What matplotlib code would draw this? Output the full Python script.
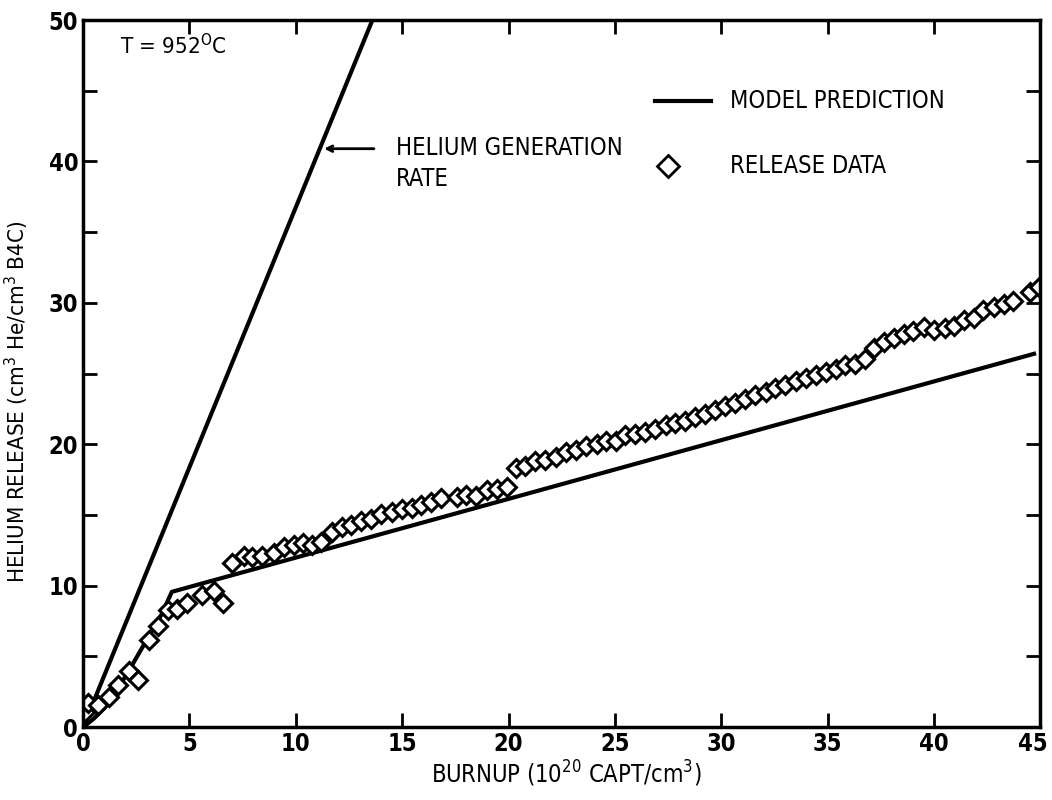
import numpy as np
import matplotlib.pyplot as plt
import matplotlib.transforms as mtransforms
plt.rcParams['font.family'] = ['DejaVu Sans']
plt.rcParams['font.stretch'] = 'condensed'

# release data (burnup, helium release)
burnup = [0.1, 0.25, 0.7, 1.23, 1.63, 2.18, 2.6, 3.1, 3.5, 4.0, 4.43, 4.9,
          5.6, 6.13, 6.56, 7.0, 7.54, 7.96, 8.43, 8.95, 9.42, 9.89, 10.33,
          10.78, 11.17, 11.7, 12.16, 12.6, 13.07, 13.54, 14.0, 14.5, 14.98,
          15.48, 15.89, 16.36, 16.83, 17.57, 17.99, 18.46, 18.98, 19.45,
          19.92, 20.34, 20.78, 21.22, 21.72, 22.22, 22.7, 23.18, 23.65,
          24.15, 24.57, 25.06, 25.45, 25.95, 26.42, 26.9, 27.39, 27.83,
          28.3, 28.74, 29.24, 29.68, 30.15, 30.62, 31.09, 31.6, 32.08, 32.5,
          32.97, 33.49, 33.96, 34.43, 34.9, 35.37, 35.83, 36.3, 36.74, 37.2,
          37.67, 38.1, 38.6, 39.0, 39.54, 40.0, 40.5, 40.95, 41.39, 41.86,
          42.3, 42.8, 43.27, 43.7, 44.5, 44.92]
release = [1.1, 1.7, 1.55, 2.1, 2.97, 3.98, 3.37, 6.2, 7.17, 8.3, 8.39, 8.8,
           9.38, 9.64, 8.75, 11.6, 12.1, 12.0, 12.1, 12.3, 12.75, 12.9, 13.0,
           12.9, 13.1, 13.8, 14.16, 14.3, 14.57, 14.7, 15.05, 15.2, 15.4,
           15.5, 15.7, 15.9, 16.2, 16.3, 16.45, 16.36, 16.76, 16.83,
           16.95, 18.3, 18.5, 18.83, 18.88, 19.07, 19.47, 19.6, 19.9,
           20.0, 20.25, 20.2, 20.65, 20.7, 20.9, 21.07, 21.4, 21.5,
           21.65, 21.93, 22.17, 22.45, 22.7, 22.9, 23.2, 23.5, 23.7, 24.0,
           24.2, 24.5, 24.7, 24.9, 25.1, 25.35, 25.6, 25.7, 26.0, 26.8,
           27.2, 27.55, 27.8, 28.0, 28.3, 28.1, 28.2, 28.4, 28.8, 28.9,
           29.5, 29.7, 29.9, 30.15, 30.8, 31.1]

# model prediction
model_x = [0, 0.5, 1.0, 2.0, 3.0, 3.7, 4.17, 44.7]
model_y = [0, 0.6, 1.35, 3.6, 6.2, 8.0, 9.57, 26.4]

# helium generation rate
gen_x = [0, 13.6]
gen_y = [0, 50]

fig = plt.figure(figsize=(10.52, 8), dpi=100)
ax = fig.add_axes([0.079, 0.091, 0.91, 0.884])

ax.plot(gen_x, gen_y, color='black', lw=3)
ax.plot(model_x, model_y, color='black', lw=3)
ax.plot(burnup, release, 'D', color='black', mfc='white', mec='black',
        ms=9, mew=2.2, linestyle='none')

ax.set_xlim(0, 45)
ax.set_ylim(0, 50)
ax.set_xticks(np.arange(0, 46, 5))
ax.set_yticks(np.arange(0, 51, 10))
ax.set_yticks(np.arange(5, 50, 10), minor=True)
ax.tick_params(which='both', direction='in', top=True, right=True,
               length=10, width=2, labelsize=17)
for lab in ax.get_xticklabels() + ax.get_yticklabels():
    lab.set_fontweight('bold')
# pull the last "45" a little inside the figure
last = ax.get_xticklabels()[-1]
last.set_transform(last.get_transform() +
                   mtransforms.ScaledTranslation(-0.08, 0, fig.dpi_scale_trans))
for s in ax.spines.values():
    s.set_linewidth(2.5)

ax.set_xlabel('BURNUP (10$^{20}$ CAPT/cm$^3$)', fontsize=17, labelpad=5)
ax.set_ylabel('HELIUM RELEASE (cm$^3$ He/cm$^3$ B4C)', fontsize=16)
ax.yaxis.set_label_coords(-0.054, 0.46)
ax.xaxis.set_label_coords(0.505, -0.045)

ax.text(1.75, 48.2, 'T = 952$^{\\rm O}$C', fontsize=16, va='center')
ax.annotate('', xy=(11.2, 40.9), xytext=(13.8, 40.9),
            arrowprops=dict(arrowstyle='->', color='black', lw=2))
ax.text(14.7, 41.8, 'HELIUM GENERATION\nRATE', fontsize=17, va='top',
        linespacing=1.35)

# legend drawn by hand
ax.plot([26.9, 29.5], [44.3, 44.3], color='black', lw=3)
ax.text(30.4, 44.3, 'MODEL PREDICTION', fontsize=17, va='center')
ax.plot([27.5], [39.7], 'D', mfc='white', mec='black', ms=11, mew=2)
ax.text(30.4, 39.7, 'RELEASE DATA', fontsize=17, va='center')

fig.savefig('out.png', dpi=100)
